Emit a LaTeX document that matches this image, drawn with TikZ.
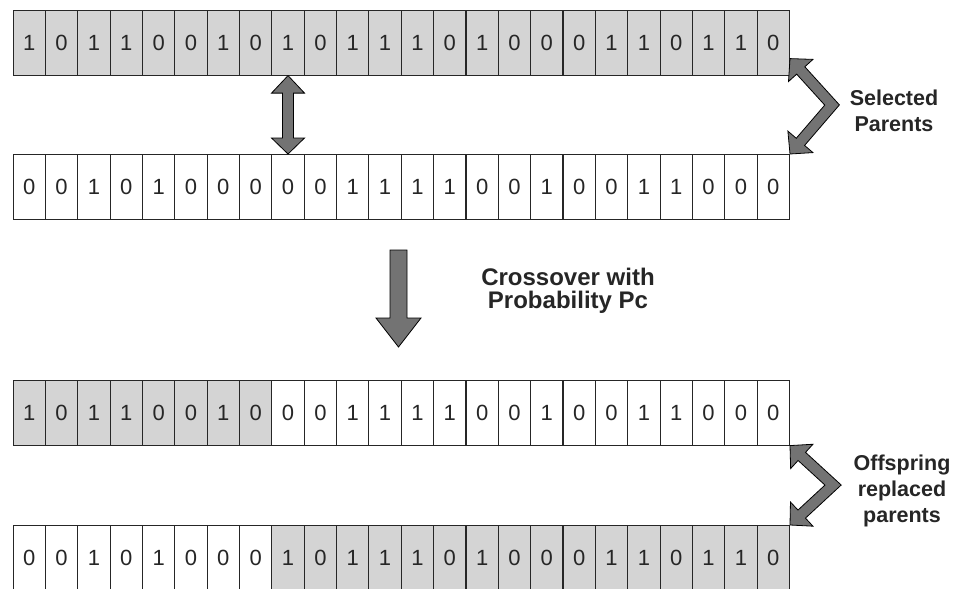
\documentclass[tikz,border=0pt]{standalone}
\usepackage{fontspec}
\setmainfont{Liberation Sans}
\usetikzlibrary{calc}

% fat bent double-headed arrow: #1 name prefix, #2 first tip, #3 bend, #4 second tip
\newcommand{\chevronarrow}[4]{%
  \coordinate (#1t1) at #2;
  \coordinate (#1bd) at #3;
  \coordinate (#1t2) at #4;
  \coordinate (#1h1) at ($(#1t1)!16pt!(#1bd)$);
  \coordinate (#1h2) at ($(#1t2)!16pt!(#1bd)$);
  \coordinate (#1la) at ($(#1h1)!5.5pt!90:(#1bd)$);
  \coordinate (#1lb) at ($(#1bd)!5.5pt!-90:(#1h1)$);
  \coordinate (#1lc) at ($(#1bd)!5.5pt!90:(#1h2)$);
  \coordinate (#1ld) at ($(#1h2)!5.5pt!-90:(#1bd)$);
  \coordinate (#1ra) at ($(#1h1)!5.5pt!-90:(#1bd)$);
  \coordinate (#1rb) at ($(#1bd)!5.5pt!90:(#1h1)$);
  \coordinate (#1rc) at ($(#1bd)!5.5pt!-90:(#1h2)$);
  \coordinate (#1rd) at ($(#1h2)!5.5pt!90:(#1bd)$);
  \draw[fatarrow] (#1t1) -- ($(#1h1)!16.5pt!90:(#1bd)$) -- (#1la)
    -- (intersection of #1la--#1lb and #1lc--#1ld) -- (#1ld)
    -- ($(#1h2)!16.5pt!-90:(#1bd)$) -- (#1t2) -- ($(#1h2)!16.5pt!90:(#1bd)$)
    -- (#1rd) -- (intersection of #1ra--#1rb and #1rc--#1rd) -- (#1ra)
    -- ($(#1h1)!16.5pt!-90:(#1bd)$) -- cycle;
}

\tikzset{
  cell/.style={draw=black!85, line width=1.1pt, minimum width=32.35pt,
    minimum height=65pt, inner sep=0pt, anchor=north west,
    font=\fontsize{22}{22}\selectfont, text=black!85},
  shaded/.style={fill=black!17},
  plain/.style={fill=white},
  fatarrow/.style={draw=black, line width=0.8pt, fill=black!55, line join=miter},
  sidelabel/.style={font=\bfseries\fontsize{21.5}{26}\selectfont, align=center, text=black!85},
  midlabel/.style={font=\bfseries\fontsize{24}{23}\selectfont, align=center, text=black!85}
}

\begin{document}
\begin{tikzpicture}[x=1pt, y=-1pt]
  \clip (0,0) rectangle (956,589);
  \fill[white] (0,0) rectangle (956,589);

  % parent 1
  \foreach \b [count=\i from 0] in {1,0,1,1,0,0,1,0,1,0,1,1,1,0,1,0,0,0,1,1,0,1,1,0}
    \node[cell, shaded] (a\i) at ({12.5+32.35*\i}, 9.5) {\b};
  % parent 2
  \foreach \b [count=\i from 0] in {0,0,1,0,1,0,0,0,0,0,1,1,1,1,0,0,1,0,0,1,1,0,0,0}
    \node[cell, plain] (b\i) at ({12.5+32.35*\i}, 154) {\b};
  % offspring 1
  \foreach \b [count=\i from 0] in {1,0,1,1,0,0,1,0,0,0,1,1,1,1,0,0,1,0,0,1,1,0,0,0} {
    \ifnum\i<8 \def\cellfill{shaded}\else \def\cellfill{plain}\fi
    \node[cell, \cellfill] (c\i) at ({12.5+32.35*\i}, 379.5) {\b};
  }
  % offspring 2
  \foreach \b [count=\i from 0] in {0,0,1,0,1,0,0,0,1,0,1,1,1,0,1,0,0,0,1,1,0,1,1,0} {
    \ifnum\i<8 \def\cellfill{plain}\else \def\cellfill{shaded}\fi
    \node[cell, \cellfill] (d\i) at ({12.5+32.35*\i}, 525) {\b};
  }

  % crossover point marker between the parents
  \coordinate (xu) at (a8.south);
  \coordinate (xv) at (b8.north);
  \draw[fatarrow] (xu) -- ($(xu)+(16.5,17.5)$) -- ($(xu)+(5.5,17.5)$)
    -- ($(xv)+(5.5,-16)$) -- ($(xv)+(16.5,-16)$) -- (xv)
    -- ($(xv)+(-16.5,-16)$) -- ($(xv)+(-5.5,-16)$)
    -- ($(xu)+(-5.5,17.5)$) -- ($(xu)+(-16.5,17.5)$) -- cycle;

  % crossover step
  \coordinate (dtop) at (398.5,250);
  \coordinate (dtip) at (398.5,347);
  \draw[fatarrow] ($(dtop)+(-8.5,0)$) -- ($(dtop)+(8.5,0)$) -- ($(dtip)+(8.5,-29)$)
    -- ($(dtip)+(22.5,-29)$) -- (dtip) -- ($(dtip)+(-22.5,-29)$)
    -- ($(dtip)+(-8.5,-29)$) -- cycle;
  \node[midlabel] (xlabel) at (568,291) {Crossover with\\Probability Pc};

  % side brackets
  \chevronarrow{p}{($(a23.south east)+(0,-17)$)}{(832,105)}{(b23.north east)}
  \node[sidelabel] (plabel) at (894,111) {Selected\\Parents};

  \chevronarrow{o}{(c23.south east)}{(833,485)}{(d23.north east)}
  \node[sidelabel] (olabel) at (902,491) {Offspring\\replaced\\parents};
\end{tikzpicture}
\end{document}
